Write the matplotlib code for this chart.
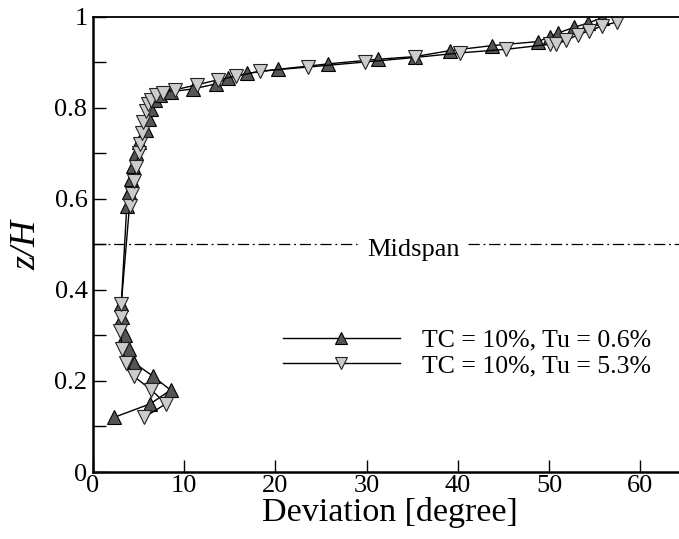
import matplotlib
matplotlib.use("Agg")
from matplotlib import pyplot as plt

plt.rcParams['font.family'] = ['Liberation Serif', 'DejaVu Serif']

## Deviation profiles over span, two inflow turbulence levels

# Tu = 0.6 %
dev_low = [2.3, 6.3, 8.5, 6.6, 4.5, 3.9, 3.5, 3.2, 3.1,
           3.7, 3.9, 4.2, 4.4, 4.7, 5.0, 5.8, 6.1, 6.4, 6.8, 7.3, 8.6,
           11.0, 13.5, 14.8, 16.9, 20.3, 25.8, 31.2, 35.3, 39.1, 43.7,
           48.8, 50.1, 51.0, 52.7, 54.3, 55.8]
z_low = [0.12, 0.15, 0.18, 0.21, 0.24, 0.27, 0.30, 0.34, 0.37,
         0.585, 0.615, 0.645, 0.672, 0.70, 0.725, 0.752, 0.775, 0.797, 0.818, 0.828, 0.836,
         0.842, 0.853, 0.866, 0.876, 0.885, 0.897, 0.907, 0.913, 0.926, 0.937,
         0.946, 0.957, 0.965, 0.977, 0.987, 0.998]

# Tu = 5.3 %
dev_high = [5.6, 8.0, 6.4, 4.5, 3.6, 3.2, 3.0, 3.1, 3.1,
            4.0, 4.3, 4.5, 4.7, 5.0, 5.1, 5.4, 5.5, 5.8, 6.0, 6.4, 6.9, 7.7, 9.0,
            11.4, 13.7, 15.7, 18.3, 23.6, 29.8, 35.3, 40.2, 45.3,
            50.1, 50.8, 51.9, 53.2, 54.4, 55.8, 57.4]
z_high = [0.12, 0.15, 0.18, 0.21, 0.24, 0.27, 0.31, 0.34, 0.37,
          0.585, 0.61, 0.64, 0.67, 0.70, 0.72, 0.745, 0.77, 0.793, 0.808, 0.818, 0.828, 0.834, 0.840,
          0.851, 0.862, 0.870, 0.881, 0.890, 0.901, 0.911, 0.921, 0.929,
          0.940, 0.940, 0.949, 0.961, 0.970, 0.980, 0.989]

labels = ['TC = 10%, Tu = 0.6%', 'TC = 10%, Tu = 5.3%']

fig = plt.figure(figsize=(6.79, 5.39), dpi=100)
ax = fig.add_axes([0.137, 0.1243, 0.8733, 0.8442])

ax.plot(dev_low, z_low, color='black', lw=1, marker='^', ms=10,
        mfc='#555555', mec='black', mew=0.8, label=labels[0])
ax.plot(dev_high, z_high, color='black', lw=1, marker='v', ms=10,
        mfc='#cccccc', mec='#222222', mew=0.8, label=labels[1])

# midspan reference line, broken around its label
dashdot = (0, (9, 3, 1.5, 3))
ax.plot([0, 28.9], [0.5, 0.5], color='black', lw=0.9, ls=dashdot)
ax.plot([41.1, 65], [0.5, 0.5], color='black', lw=0.9, ls=dashdot)
ax.text(35.1, 0.488, 'Midspan', fontsize=19, ha='center', va='center')

ax.set_xlim(0, 65)
ax.set_ylim(0, 1)
ax.set_xticks([0, 10, 20, 30, 40, 50, 60])
ax.set_yticks([0, 0.2, 0.4, 0.6, 0.8, 1])
ax.set_yticklabels(['0', '0.2', '0.4', '0.6', '0.8', '1'])
ax.set_yticks([0.1, 0.3, 0.5, 0.7, 0.9], minor=True)
ax.tick_params(which='both', direction='in', length=9, width=1, labelsize=19)
ax.tick_params(axis='x', pad=2)
ax.tick_params(axis='y', pad=4)
for s in ['left', 'bottom']:
    ax.spines[s].set_linewidth(1.8)
ax.spines['top'].set_linewidth(1.3)
ax.spines['right'].set_visible(False)

ax.set_xlabel('Deviation [degree]', fontsize=24.5, labelpad=0)
ax.set_ylabel('z/H', fontsize=26, fontstyle='italic', labelpad=8)

ax.legend(loc='center left', bbox_to_anchor=(0.32, 0.262), frameon=False,
          fontsize=18.5, handlelength=4.55, handletextpad=0.86, borderpad=0,
          borderaxespad=0, labelspacing=0.1, numpoints=1, markerscale=0.9)

fig.savefig('out.png', dpi=100)
